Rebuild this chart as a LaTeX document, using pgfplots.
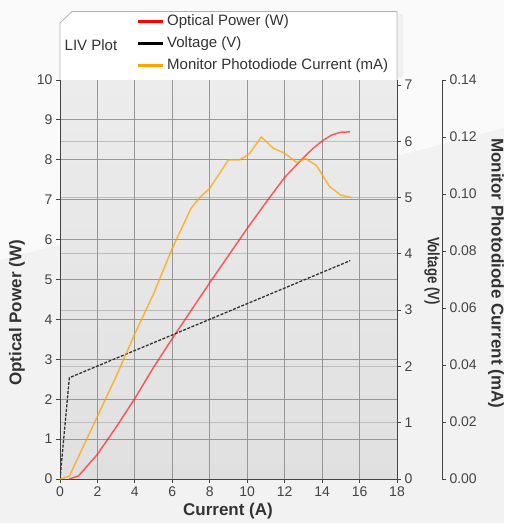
\documentclass[border=0pt]{standalone}
\usepackage{pgfplots}
\pgfplotsset{compat=1.18}
\usepackage{fontspec}
\setmainfont{Liberation Sans}

\definecolor{pagebg}{HTML}{F2F2F2}
\definecolor{pagehi}{HTML}{FAFAFA}
\definecolor{plottop}{HTML}{ECECEC}
\definecolor{plotbot}{HTML}{E0E0E0}
\definecolor{gridW}{HTML}{979797}
\definecolor{gridV}{HTML}{BDBDBD}
\definecolor{axisc}{HTML}{444444}
\definecolor{txt}{HTML}{444444}
\definecolor{lab}{HTML}{333333}
\definecolor{powred}{HTML}{FF2020}
\definecolor{pdorange}{HTML}{FFA500}

\newcommand{\ticks}{\fontsize{14bp}{16bp}\selectfont}
\newcommand{\labs}{\fontsize{17bp}{19bp}\selectfont\bfseries}

\begin{document}
\begin{tikzpicture}[x=1bp,y=1bp]
% page background
\fill[pagebg] (-60,-44) rectangle (444,479);
\fill[pagehi] (-60,219) -- (444,351) -- (444,479) -- (-60,479) -- cycle;

\pgfplotsset{
  base/.style={
    at={(0,0)}, anchor=south west, scale only axis,
    width=337bp, height=399bp, xmin=0, xmax=18,
    tick align=outside, major tick length=4bp,
    tick style={color=axisc, line width=0.8bp},
    axis line style={color=axisc, line width=1bp},
    tick label style={font=\ticks, text=txt},
    /pgf/number format/assume math mode=true,
  },
}

% background and voltage grid
\begin{axis}[base, ymin=0, ymax=7.09,
    axis line style={draw=none}, tick style={draw=none},
    xtick=\empty, ytick={1,...,6}, yticklabels={},
    ymajorgrids, major grid style={color=gridV, line width=1.2bp},
    axis background/.style={top color=plottop, bottom color=plotbot}]
\end{axis}

% optical power (left axis)
\begin{axis}[base, ymin=0, ymax=10,
    axis x line*=bottom, axis y line*=left,
    xtick={0,2,...,18}, ytick={0,...,10},
    grid=major, major grid style={color=gridW, line width=1bp},
    xlabel={Current (A)}, ylabel={Optical Power (W)},
    xlabel style={font=\labs, text=lab, at={(axis description cs:0.4985,-0.0802)}, anchor=center},
    ylabel style={font=\labs, text=lab, at={(axis description cs:-0.1276,0.416)}, anchor=center}]
\addplot[powred, opacity=0.7, line width=1.5bp] coordinates {
  (0.5,0) (1,0.08) (1.5,0.35) (2,0.62) (3,1.3) (4,2.02) (5,2.8) (6,3.52)
  (7,4.22) (8,4.92) (9,5.6) (10,6.28) (11,6.93) (12,7.56) (13,8.05)
  (13.5,8.28) (14,8.47) (14.5,8.62) (15,8.69) (15.5,8.7)
};
\end{axis}

% voltage (right axis)
\begin{axis}[base, ymin=0, ymax=7.09,
    axis x line=none, axis y line*=right,
    ytick={0,...,7},
    ylabel={Voltage (V)},
    ylabel style={font=\fontsize{16.5bp}{18bp}\selectfont\bfseries, text=lab, rotate=180, xscale=0.8,
      at={(axis description cs:1.1039,0.5213)}, anchor=center}]
\addplot[black!80, line width=1.3bp, dash pattern=on 3bp off 1.5bp] coordinates {
  (0,0) (0.25,0.9) (0.5,1.80) (6,2.56) (15.5,3.88)
};
\end{axis}

% monitor photodiode current (offset right axis)
\begin{axis}[base, width=382bp, xmax=20.404, ymin=0, ymax=0.14,
    axis x line=none, axis y line*=right,
    ytick={0,0.02,...,0.14},
    yticklabel style={/pgf/number format/.cd, fixed, fixed zerofill, precision=2},
    ylabel={Monitor Photodiode Current (mA)},
    ylabel style={font=\labs, text=lab, rotate=180,
      at={(axis description cs:1.1414,0.516)}, anchor=center}]
\addplot[pdorange, opacity=0.75, line width=1.5bp] coordinates {
  (0,0) (0.5,0.001) (1,0.008) (2,0.022) (3,0.036) (4,0.051) (5,0.065)
  (6,0.081) (6.5,0.088) (7,0.095) (7.5,0.099) (8,0.102) (8.5,0.107)
  (9,0.112) (9.6,0.112) (10.1,0.114) (10.75,0.120) (11.4,0.116)
  (12,0.1143) (12.65,0.111) (13.1,0.1125) (13.7,0.110) (14.4,0.1026)
  (15,0.0996) (15.6,0.0987)
};
\end{axis}

% title box with legend
\fill[black!6] (337,401) rectangle (343,465);
\filldraw[fill=white, draw=black!30, line width=0.8bp]
  (0,399) -- (0,456) -- (12,467.5) -- (337,467.5) -- (337,399);
\node[font=\fontsize{15bp}{17bp}\selectfont, text=lab] at (31,434) {LIV Plot};
\draw[red, line width=3bp] (78,457) -- (103,457);
\draw[black, line width=3bp] (78,435) -- (103,435);
\draw[pdorange, line width=3bp] (78,413) -- (103,413);
\begin{scope}[every node/.style={anchor=west, inner sep=0pt, font=\fontsize{15bp}{17bp}\selectfont, text=lab}]
\node at (107,457) {Optical Power (W)};
\node at (107,435) {Voltage (V)};
\node at (107,413) {Monitor Photodiode Current (mA)};
\end{scope}
\end{tikzpicture}
\end{document}
